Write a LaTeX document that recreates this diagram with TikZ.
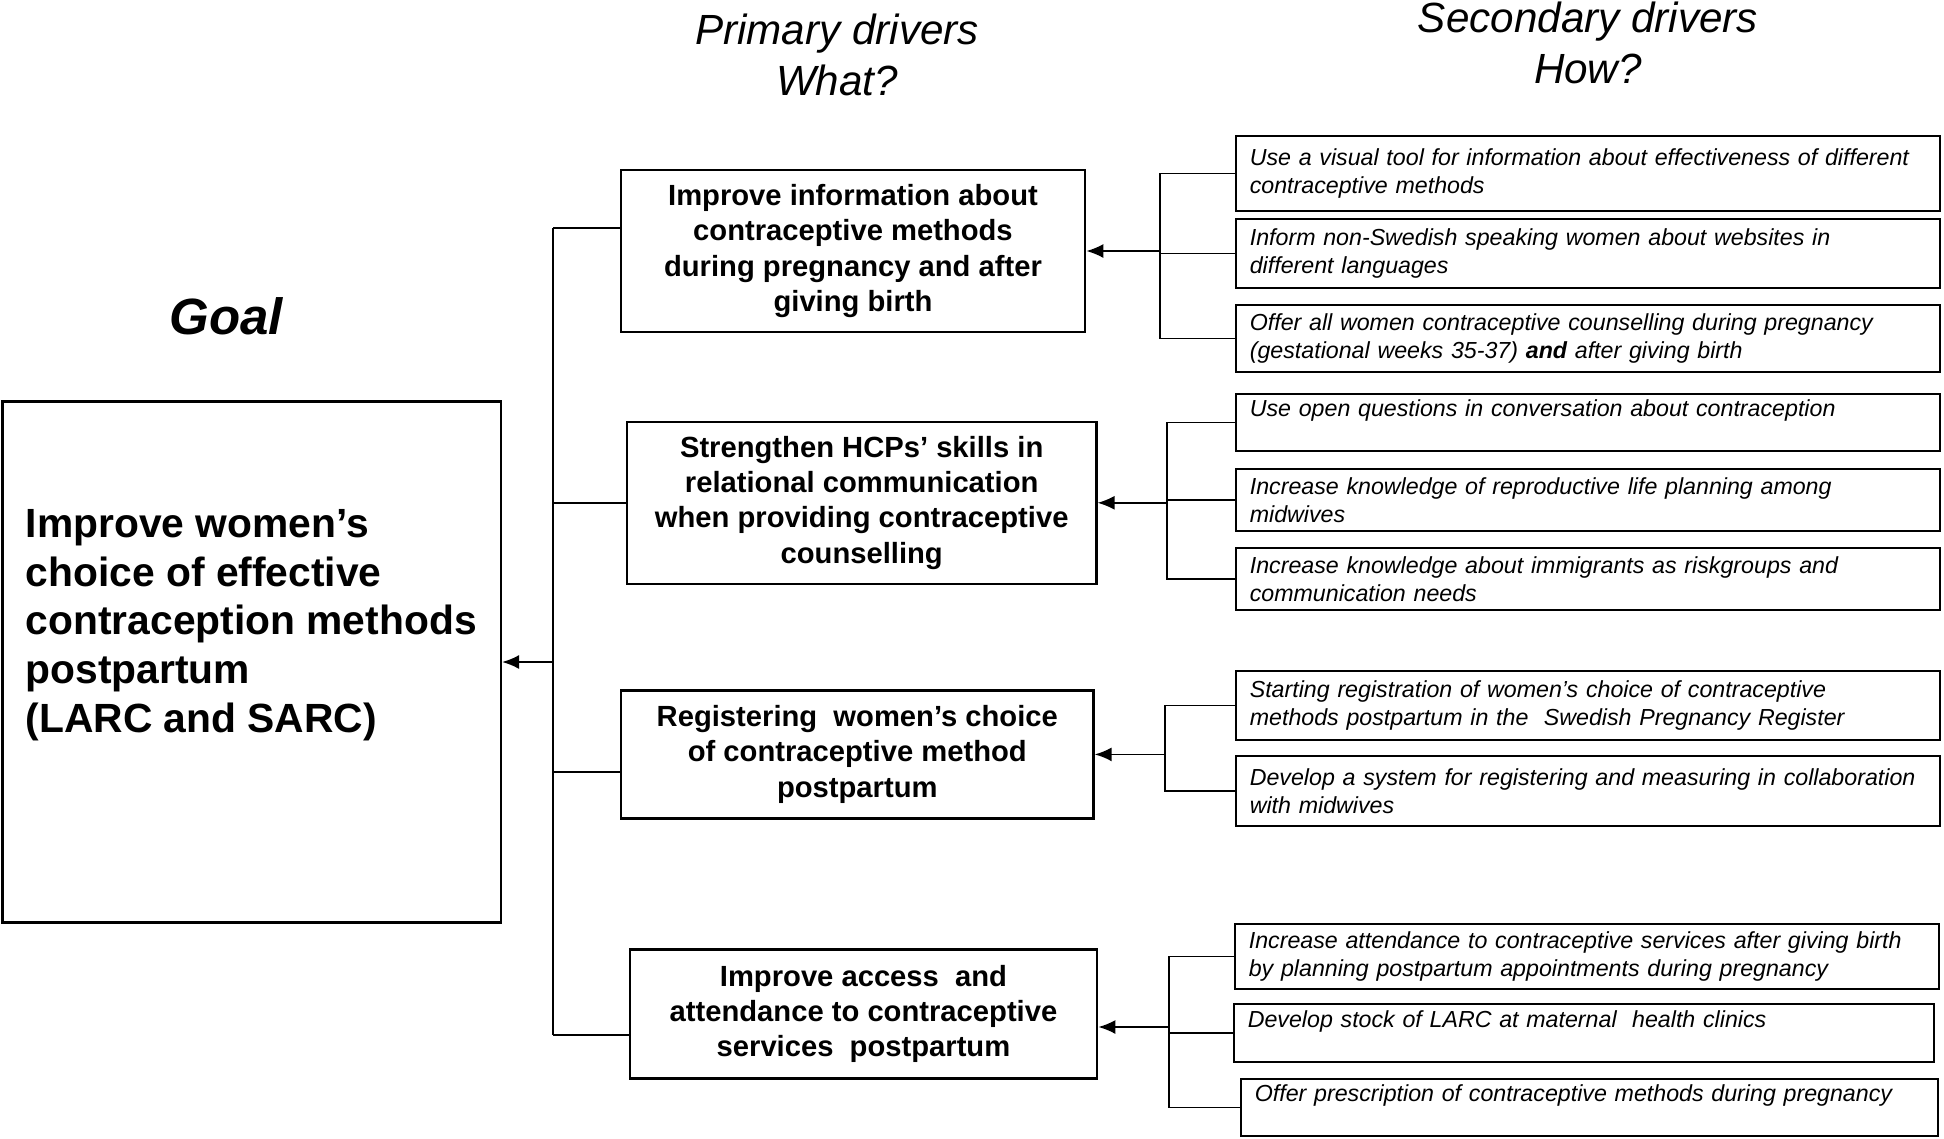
\documentclass[tikz,border=0pt]{standalone}
\usepackage{fontspec}
\setmainfont{Liberation Sans}
\usetikzlibrary{arrows.meta}
\hyphenpenalty=10000
\exhyphenpenalty=10000

\begin{document}
\begin{tikzpicture}[x=0.01cm,y=-0.01cm,
    every node/.style={inner sep=0pt},
    box/.style={draw=black,line width=0.7pt},
    goalbox/.style={box,minimum width=4.98cm,minimum height=5.21cm},
    goaltext/.style={align=left,font=\bfseries\fontsize{11.6}{13.85}\selectfont},
    primbox/.style={box,align=center,font=\bfseries\fontsize{8.3}{10}\selectfont},
    secbox/.style={box,align=left,text width=6.76cm,inner xsep=0.14cm,font=\itshape\fontsize{6.6}{8.1}\selectfont},
    head/.style={align=center,font=\itshape\fontsize{12}{14.4}\selectfont},
    link/.style={line width=0.5pt},
    tip/.style={-{Latex[length=1.7mm,width=1.4mm]}}]
            \useasboundingbox (0,0) rectangle (1944,1138);

            % headings
            \node[head] (what) at (837,55) {Primary drivers\\What?};
            \node[head] (how) at (1588,43) {Secondary drivers\\How?};
            \node[font=\bfseries\itshape\fontsize{14.5}{17}\selectfont] (goallabel) at (226,316) {Goal};

            % goal
            \node[goalbox] (goal) at (251.7,662) {};
            \node[goaltext,anchor=west] (goaltxt) at (25,625) {Improve women’s\\choice of effective\\contraception methods\\postpartum\\(LARC and SARC)};

            % primary drivers
            \node[primbox,minimum width=4.64cm,minimum height=1.62cm] (p1) at (853,251) {Improve information about\\contraceptive methods\\during pregnancy and after\\giving birth};
            \node[primbox,minimum width=4.69cm,minimum height=1.62cm] (p2) at (861.7,502.8) {Strengthen HCPs’ skills in\\relational communication\\when providing contraceptive\\counselling};
            \node[primbox,minimum width=4.72cm,minimum height=1.28cm] (p3) at (857.3,754.4) {Registering \ women’s choice\\of contraceptive method\\postpartum};
            \node[primbox,minimum width=4.67cm,minimum height=1.29cm] (p4) at (863.5,1014) {Improve access \ and\\attendance to contraceptive\\services \ postpartum};

            % secondary drivers
            \node[secbox,minimum height=0.75cm] (s1a) at (1588,173.5) {Use a visual tool for information about effectiveness of different\\contraceptive methods};
            \node[secbox,minimum height=0.69cm] (s1b) at (1588,253.5) {Inform non-Swedish speaking women about websites in\\different languages};
            \node[secbox,minimum height=0.67cm] (s1c) at (1588,338.5) {Offer all women contraceptive counselling during pregnancy\\(gestational weeks 35-37) {\bfseries and} after giving birth};

            \node[secbox,minimum height=0.57cm] (s2a) at (1588,422.5) {Use open questions in conversation about contraception\\\mbox{}};
            \node[secbox,minimum height=0.62cm] (s2b) at (1588,500) {Increase knowledge of reproductive life planning among\\midwives};
            \node[secbox,minimum height=0.62cm] (s2c) at (1588,579) {Increase knowledge about immigrants as riskgroups and\\communication needs};

            \node[secbox,minimum height=0.69cm] (s3a) at (1588,705.5) {Starting registration of women’s choice of contraceptive\\methods postpartum in the \ Swedish Pregnancy Register};
            \node[secbox,minimum height=0.70cm] (s3b) at (1588,791) {Develop a system for registering and measuring in collaboration\\with midwives};

            \node[secbox,minimum height=0.65cm] (s4a) at (1587,956.5) {Increase attendance to contraceptive services after giving birth\\by planning postpartum appointments during pregnancy};
            \node[secbox,text width=6.72cm,minimum height=0.58cm] (s4b) at (1584,1033) {Develop stock of LARC at maternal \ health clinics\\\mbox{}};
            \node[secbox,text width=6.69cm,minimum height=0.57cm] (s4c) at (1589.5,1107.5) {Offer prescription of contraceptive methods during pregnancy\\\mbox{}};

            % buses
            \coordinate (b1) at (553,228);
            \coordinate (b2) at (553,503);
            \coordinate (b3) at (553,772);
            \coordinate (b4) at (553,1035);
            \coordinate (bg) at (553,662);
            \coordinate (c1) at (1160,251);
            \coordinate (c2) at (1167,502.8);
            \coordinate (c3) at (1165,754.4);
            \coordinate (c4) at (1169,1027);

            \path [link] (b1) edge (b4);
            \path [link] (b1) edge (b1 -| p1.west);
            \path [link] (b2) edge (b2 -| p2.west);
            \path [link] (b3) edge (b3 -| p3.west);
            \path [link] (b4) edge (b4 -| p4.west);
            \path [link,tip] (bg) edge (goal.east);

            \draw [link] (s1a.west) -| (c1) |- (s1c.west);
            \path [link] (c1 |- s1b.west) edge (s1b.west);
            \path [link,tip] (c1) edge (p1.east);

            \draw [link] (s2a.west) -| (c2) |- (s2c.west);
            \path [link] (c2 |- s2b.west) edge (s2b.west);
            \path [link,tip] (c2) edge (p2.east);

            \draw [link] (s3a.west) -| (c3) |- (s3b.west);
            \path [link,tip] (c3) edge (p3.east);

            \draw [link] (s4a.west) -| (c4) |- (s4c.west);
            \path [link] (c4 |- s4b.west) edge (s4b.west);
            \path [link,tip] (c4) edge (c4 -| p4.east);
        \end{tikzpicture}
\end{document}
